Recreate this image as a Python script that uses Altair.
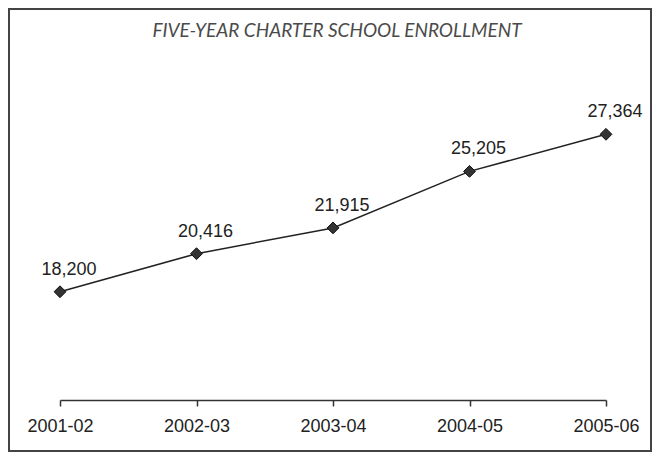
import altair as alt
import pandas as pd

years = ["2001-02", "2002-03", "2003-04", "2004-05", "2005-06"]
enrollment = [18200, 20416, 21915, 25205, 27364]
labels = ["18,200", "20,416", "21,915", "25,205", "27,364"]
title_text = "Five-Year Charter School Enrollment"

df = pd.DataFrame({"year": years, "enrollment": enrollment, "label": labels})
tdf = pd.DataFrame({"t": [title_text.upper()]})

x = alt.X(
    "year:N",
    sort=years,
    scale=alt.Scale(type="point", padding=0),
    axis=alt.Axis(
        title=None, labelAngle=0, grid=False,
        domainColor="#333", domainWidth=1.5,
        tickColor="#333", tickWidth=1.5, tickSize=6,
        labelFont="Liberation Sans", labelFontSize=18, labelColor="#222",
        labelPadding=11,
    ),
)
y = alt.Y(
    "enrollment:Q",
    scale=alt.Scale(domain=[11900, 30000], nice=False, zero=False),
    axis=None,
)

border = alt.Chart(tdf).mark_rect(
    fillOpacity=0, stroke="#444", strokeWidth=2
).encode(
    x=alt.value(-51), x2=alt.value(591), y=alt.value(-80), y2=alt.value(362)
)

title = alt.Chart(tdf).mark_text(
    font="Lato", fontStyle="italic", fontSize=19, color="#4a4a4a",
    align="center", baseline="middle",
).encode(x=alt.value(277), y=alt.value(-58), text="t:N")

base = alt.Chart(df).encode(x=x, y=y)
line = base.mark_line(color="#222", strokeWidth=1.5)
pts = base.mark_point(
    shape="diamond", filled=True, size=140, color="#333", opacity=1,
    stroke="#111", strokeWidth=1,
)
text = base.mark_text(
    dx=9, dy=-22, font="Liberation Sans", fontSize=18, color="#222"
).encode(text="label:N")

chart = alt.layer(border, title, line, pts, text).properties(
    width=546, height=311, padding=0
).configure_view(strokeWidth=0)

chart.save("out.html", embed_options={"renderer": "svg", "actions": False})
